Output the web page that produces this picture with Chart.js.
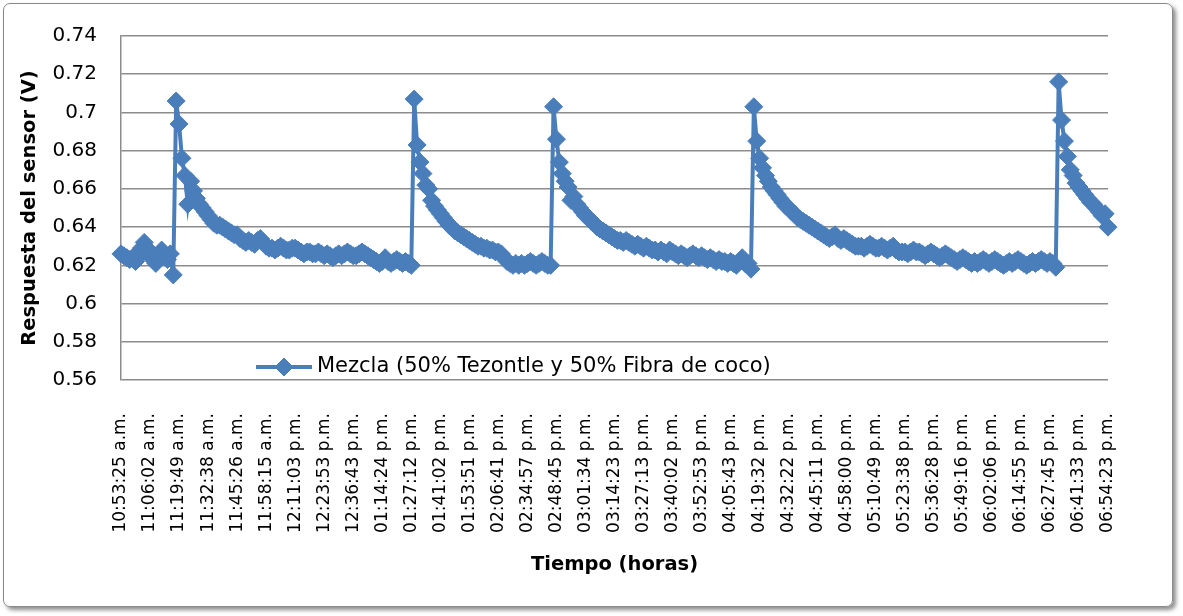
<!DOCTYPE html>
<html>
<head>
<meta charset="utf-8">
<script src="https://cdn.jsdelivr.net/npm/chart.js@4.4.1/dist/chart.umd.min.js"></script>
<style>
  body { margin: 0; background: #fff; }
  #wrap { position: relative; width: 1183px; height: 616px; }
  #marco {
    position: absolute; left: 3px; top: 3px; width: 1168px; height: 602px;
    border: 1.5px solid #8a8a8a; border-radius: 7px;
    box-shadow: 3px 3px 4px rgba(0,0,0,0.45);
    pointer-events: none;
  }
</style>
</head>
<body>
<div id="wrap">
  <canvas id="grafica" width="1183" height="616"></canvas>
  <div id="marco"></div>
</div>
<script>
// etiquetas del eje X (una cada 10 lecturas)
const tickLabels = [
    '10:53:25 a.m.', '11:06:02 a.m.', '11:19:49 a.m.', '11:32:38 a.m.', '11:45:26 a.m.',
    '11:58:15 a.m.', '12:11:03 p.m.', '12:23:53 p.m.', '12:36:43 p.m.', '01:14:24 p.m.',
    '01:27:12 p.m.', '01:41:02 p.m.', '01:53:51 p.m.', '02:06:41 p.m.', '02:34:57 p.m.',
    '02:48:45 p.m.', '03:01:34 p.m.', '03:14:23 p.m.', '03:27:13 p.m.', '03:40:02 p.m.',
    '03:52:53 p.m.', '04:05:43 p.m.', '04:19:32 p.m.', '04:32:22 p.m.', '04:45:11 p.m.',
    '04:58:00 p.m.', '05:10:49 p.m.', '05:23:38 p.m.', '05:36:28 p.m.', '05:49:16 p.m.',
    '06:02:06 p.m.', '06:14:55 p.m.', '06:27:45 p.m.', '06:41:33 p.m.', '06:54:23 p.m.'
]
const labelEvery = 10

// lecturas del sensor (V), por riego
const riego1 = [
    0.626, 0.625, 0.624, 0.623, 0.624, 0.622, 0.625, 0.629, 0.632, 0.629,
    0.625, 0.623, 0.621, 0.624, 0.628, 0.626, 0.623, 0.626, 0.615, 0.706,
    0.694, 0.676, 0.667, 0.652, 0.664, 0.659, 0.655, 0.652, 0.650, 0.648,
    0.646, 0.644, 0.642, 0.641, 0.641, 0.640, 0.639, 0.638, 0.637, 0.636,
    0.636, 0.634, 0.633, 0.632, 0.633, 0.632, 0.631, 0.633, 0.634, 0.632,
    0.630, 0.629, 0.629, 0.628, 0.629, 0.630, 0.629, 0.628, 0.628, 0.629,
    0.629, 0.628, 0.627, 0.626, 0.627, 0.627, 0.626, 0.626, 0.627, 0.626,
    0.625, 0.626, 0.625, 0.624, 0.625, 0.626, 0.625, 0.626, 0.627, 0.626,
    0.625, 0.625, 0.626, 0.627, 0.626, 0.625, 0.624, 0.623, 0.622, 0.621,
    0.622, 0.624, 0.622, 0.621, 0.622, 0.623, 0.622, 0.621, 0.622, 0.621,
    0.620
]
const riego2 = [
    0.707, 0.683, 0.674, 0.668, 0.662, 0.660, 0.654, 0.651, 0.649, 0.647,
    0.645, 0.643, 0.641, 0.640, 0.638, 0.637, 0.636, 0.635, 0.634, 0.633,
    0.632, 0.631, 0.630, 0.630, 0.629, 0.629, 0.628, 0.628, 0.627, 0.627,
    0.626, 0.624, 0.622, 0.621, 0.620, 0.621, 0.620, 0.621, 0.620, 0.621,
    0.622, 0.621, 0.620, 0.621, 0.622, 0.621, 0.620, 0.620
]
const riego3 = [
    0.703, 0.686, 0.674, 0.668, 0.664, 0.661, 0.654, 0.656, 0.652, 0.650,
    0.648, 0.646, 0.645, 0.643, 0.642, 0.640, 0.639, 0.638, 0.637, 0.636,
    0.635, 0.634, 0.633, 0.633, 0.632, 0.633, 0.632, 0.631, 0.630, 0.631,
    0.630, 0.629, 0.630, 0.629, 0.628, 0.628, 0.627, 0.628, 0.627, 0.626,
    0.628, 0.627, 0.626, 0.625, 0.626, 0.625, 0.624, 0.625, 0.626, 0.625,
    0.624, 0.625, 0.624, 0.623, 0.624, 0.623, 0.622, 0.623, 0.622, 0.622,
    0.621, 0.622, 0.621, 0.620, 0.622, 0.624, 0.621, 0.621, 0.618
]
const riego4 = [
    0.703, 0.685, 0.676, 0.671, 0.667, 0.664, 0.661, 0.659, 0.657, 0.655,
    0.653, 0.651, 0.650, 0.648, 0.647, 0.645, 0.644, 0.643, 0.642, 0.641,
    0.640, 0.639, 0.638, 0.637, 0.636, 0.635, 0.634, 0.635, 0.636, 0.634,
    0.633, 0.634, 0.633, 0.632, 0.631, 0.630, 0.630, 0.630, 0.629, 0.630,
    0.631, 0.630, 0.629, 0.629, 0.630, 0.629, 0.628, 0.629, 0.630, 0.628,
    0.627, 0.627, 0.627, 0.626, 0.627, 0.628, 0.627, 0.627, 0.626, 0.625,
    0.626, 0.627, 0.626, 0.625, 0.624, 0.625, 0.626, 0.625, 0.624, 0.623,
    0.622, 0.623, 0.624, 0.623, 0.622, 0.621, 0.622, 0.621, 0.622, 0.623,
    0.622, 0.621, 0.622, 0.623, 0.622, 0.621, 0.620, 0.621, 0.622, 0.621,
    0.622, 0.623, 0.622, 0.621, 0.620, 0.621, 0.622, 0.621, 0.622, 0.623,
    0.622, 0.621, 0.622, 0.621, 0.619
]
const riego5 = [
    0.716, 0.696, 0.685, 0.677, 0.670, 0.667, 0.663, 0.661, 0.659, 0.657,
    0.655, 0.653, 0.652, 0.650, 0.648, 0.646, 0.647, 0.640
]
const respuesta = [].concat(riego1, riego2, riego3, riego4, riego5)

const serieNombre = 'Mezcla (50% Tezontle y 50% Fibra de coco)'
const azul = '#4A7EBB'

Chart.defaults.font.family = '"DejaVu Sans"'
Chart.defaults.color = '#000'

// leyenda dentro del area de la grafica, como en Excel
const leyendaInterna = {
    id: 'leyendaInterna',
    afterDraw(chart) {
        const ctx = chart.ctx
        const area = chart.chartArea
        const ds = chart.data.datasets[0]
        const x0 = area.left + 135
        const y0 = area.bottom - 13
        const r = ds.pointRadius
        ctx.save()
        ctx.strokeStyle = ds.borderColor
        ctx.lineWidth = ds.borderWidth
        ctx.beginPath()
        ctx.moveTo(x0, y0)
        ctx.lineTo(x0 + 56, y0)
        ctx.stroke()
        ctx.fillStyle = ds.pointBackgroundColor
        ctx.lineWidth = 1
        ctx.beginPath()
        ctx.moveTo(x0 + 28, y0 - r)
        ctx.lineTo(x0 + 28 + r, y0)
        ctx.lineTo(x0 + 28, y0 + r)
        ctx.lineTo(x0 + 28 - r, y0)
        ctx.closePath()
        ctx.fill()
        ctx.stroke()
        ctx.fillStyle = '#000'
        ctx.font = '21px "DejaVu Sans"'
        ctx.textBaseline = 'middle'
        ctx.fillText(ds.label, x0 + 61, y0)
        ctx.restore()
    }
}

const labels = respuesta.map((v, i) => i % labelEvery === 0 ? tickLabels[i / labelEvery] : '')

new Chart(document.getElementById('grafica'), {
    type: 'line',
    data: {
        labels: labels,
        datasets: [{
            label: serieNombre,
            data: respuesta,
            borderColor: azul,
            backgroundColor: azul,
            pointBackgroundColor: azul,
            pointBorderColor: azul,
            borderWidth: 4,
            pointStyle: 'rectRot',
            pointRadius: 9,
            pointBorderWidth: 1,
            tension: 0
        }]
    },
    options: {
        responsive: false,
        animation: false,
        layout: { padding: { left: 18, right: 75, top: 35, bottom: 39 } },
        plugins: {
            legend: { display: false },
            tooltip: { enabled: false }
        },
        scales: {
            x: {
                grid: { display: false, drawTicks: false },
                border: { display: false },
                ticks: {
                    autoSkip: false,
                    maxRotation: 90,
                    minRotation: 90,
                    padding: 33,
                    font: { size: 17 }
                },
                title: {
                    display: true,
                    text: 'Tiempo (horas)',
                    font: { size: 19.5, weight: 'bold' },
                    padding: 0
                },
                afterFit: s => { s.height = 197 }
            },
            y: {
                min: 0.56,
                max: 0.74,
                grid: { color: '#8c8c8c', lineWidth: 1.5, drawTicks: false },
                border: { display: true, color: '#8c8c8c', width: 1.5 },
                ticks: {
                    stepSize: 0.02,
                    padding: 24,
                    font: { size: 20 },
                    callback: v => String(parseFloat(v.toFixed(2)))
                },
                title: {
                    display: true,
                    text: 'Respuesta del sensor (V)',
                    font: { size: 19.5, weight: 'bold' },
                    padding: 0
                },
                afterFit: s => { s.width = 103 }
            }
        }
    },
    plugins: [leyendaInterna]
})
</script>
</body>
</html>
